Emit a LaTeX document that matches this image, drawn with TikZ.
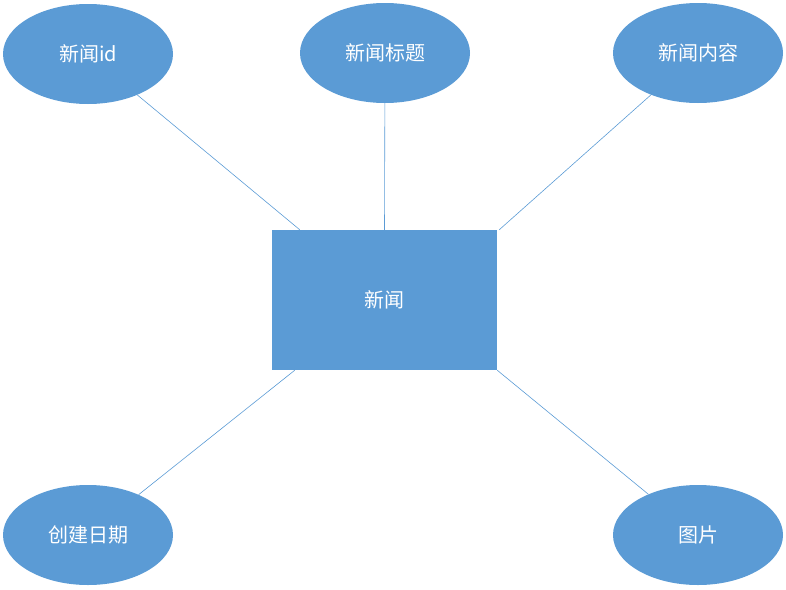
\documentclass[tikz,border=0pt]{standalone}
\usepackage{fontspec}
\usepackage{xcolor}
\newfontfamily\cjk{Noto Sans CJK SC}
\definecolor{erblue}{HTML}{5B9BD5}
\usetikzlibrary{shapes.geometric}

\begin{document}
\begin{tikzpicture}[x=1pt,y=-1pt,
  attr/.style={ellipse, fill=erblue, draw=none, minimum width=170pt, minimum height=100pt, inner sep=0pt},
  entity/.style={rectangle, fill=erblue, draw=none, minimum width=225pt, minimum height=140pt, inner sep=0pt},
  link/.style={erblue, line width=.6pt},
  every node/.style={font=\cjk\fontsize{20}{24}\selectfont, text=white}]
\useasboundingbox (0,0) rectangle (786,589);
\node[entity] (news) at (384.5,300) {新闻};
\node[attr] (newsid) at (88,54) {新闻id};
\node[attr] (title) at (385,53) {新闻标题};
\node[attr] (content) at (698,53) {新闻内容};
\node[attr] (created) at (88,535) {创建日期};
\node[attr] (picture) at (698,535) {图片};
\draw[link] (newsid) -- ([xshift=28pt]news.north west);
\draw[link] (title) -- (news.north);
\draw[link] (content) -- ([xshift=2pt]news.north east);
\draw[link] (created) -- ([xshift=23pt]news.south west);
\draw[link] (picture) -- (news.south east);
\end{tikzpicture}
\end{document}
